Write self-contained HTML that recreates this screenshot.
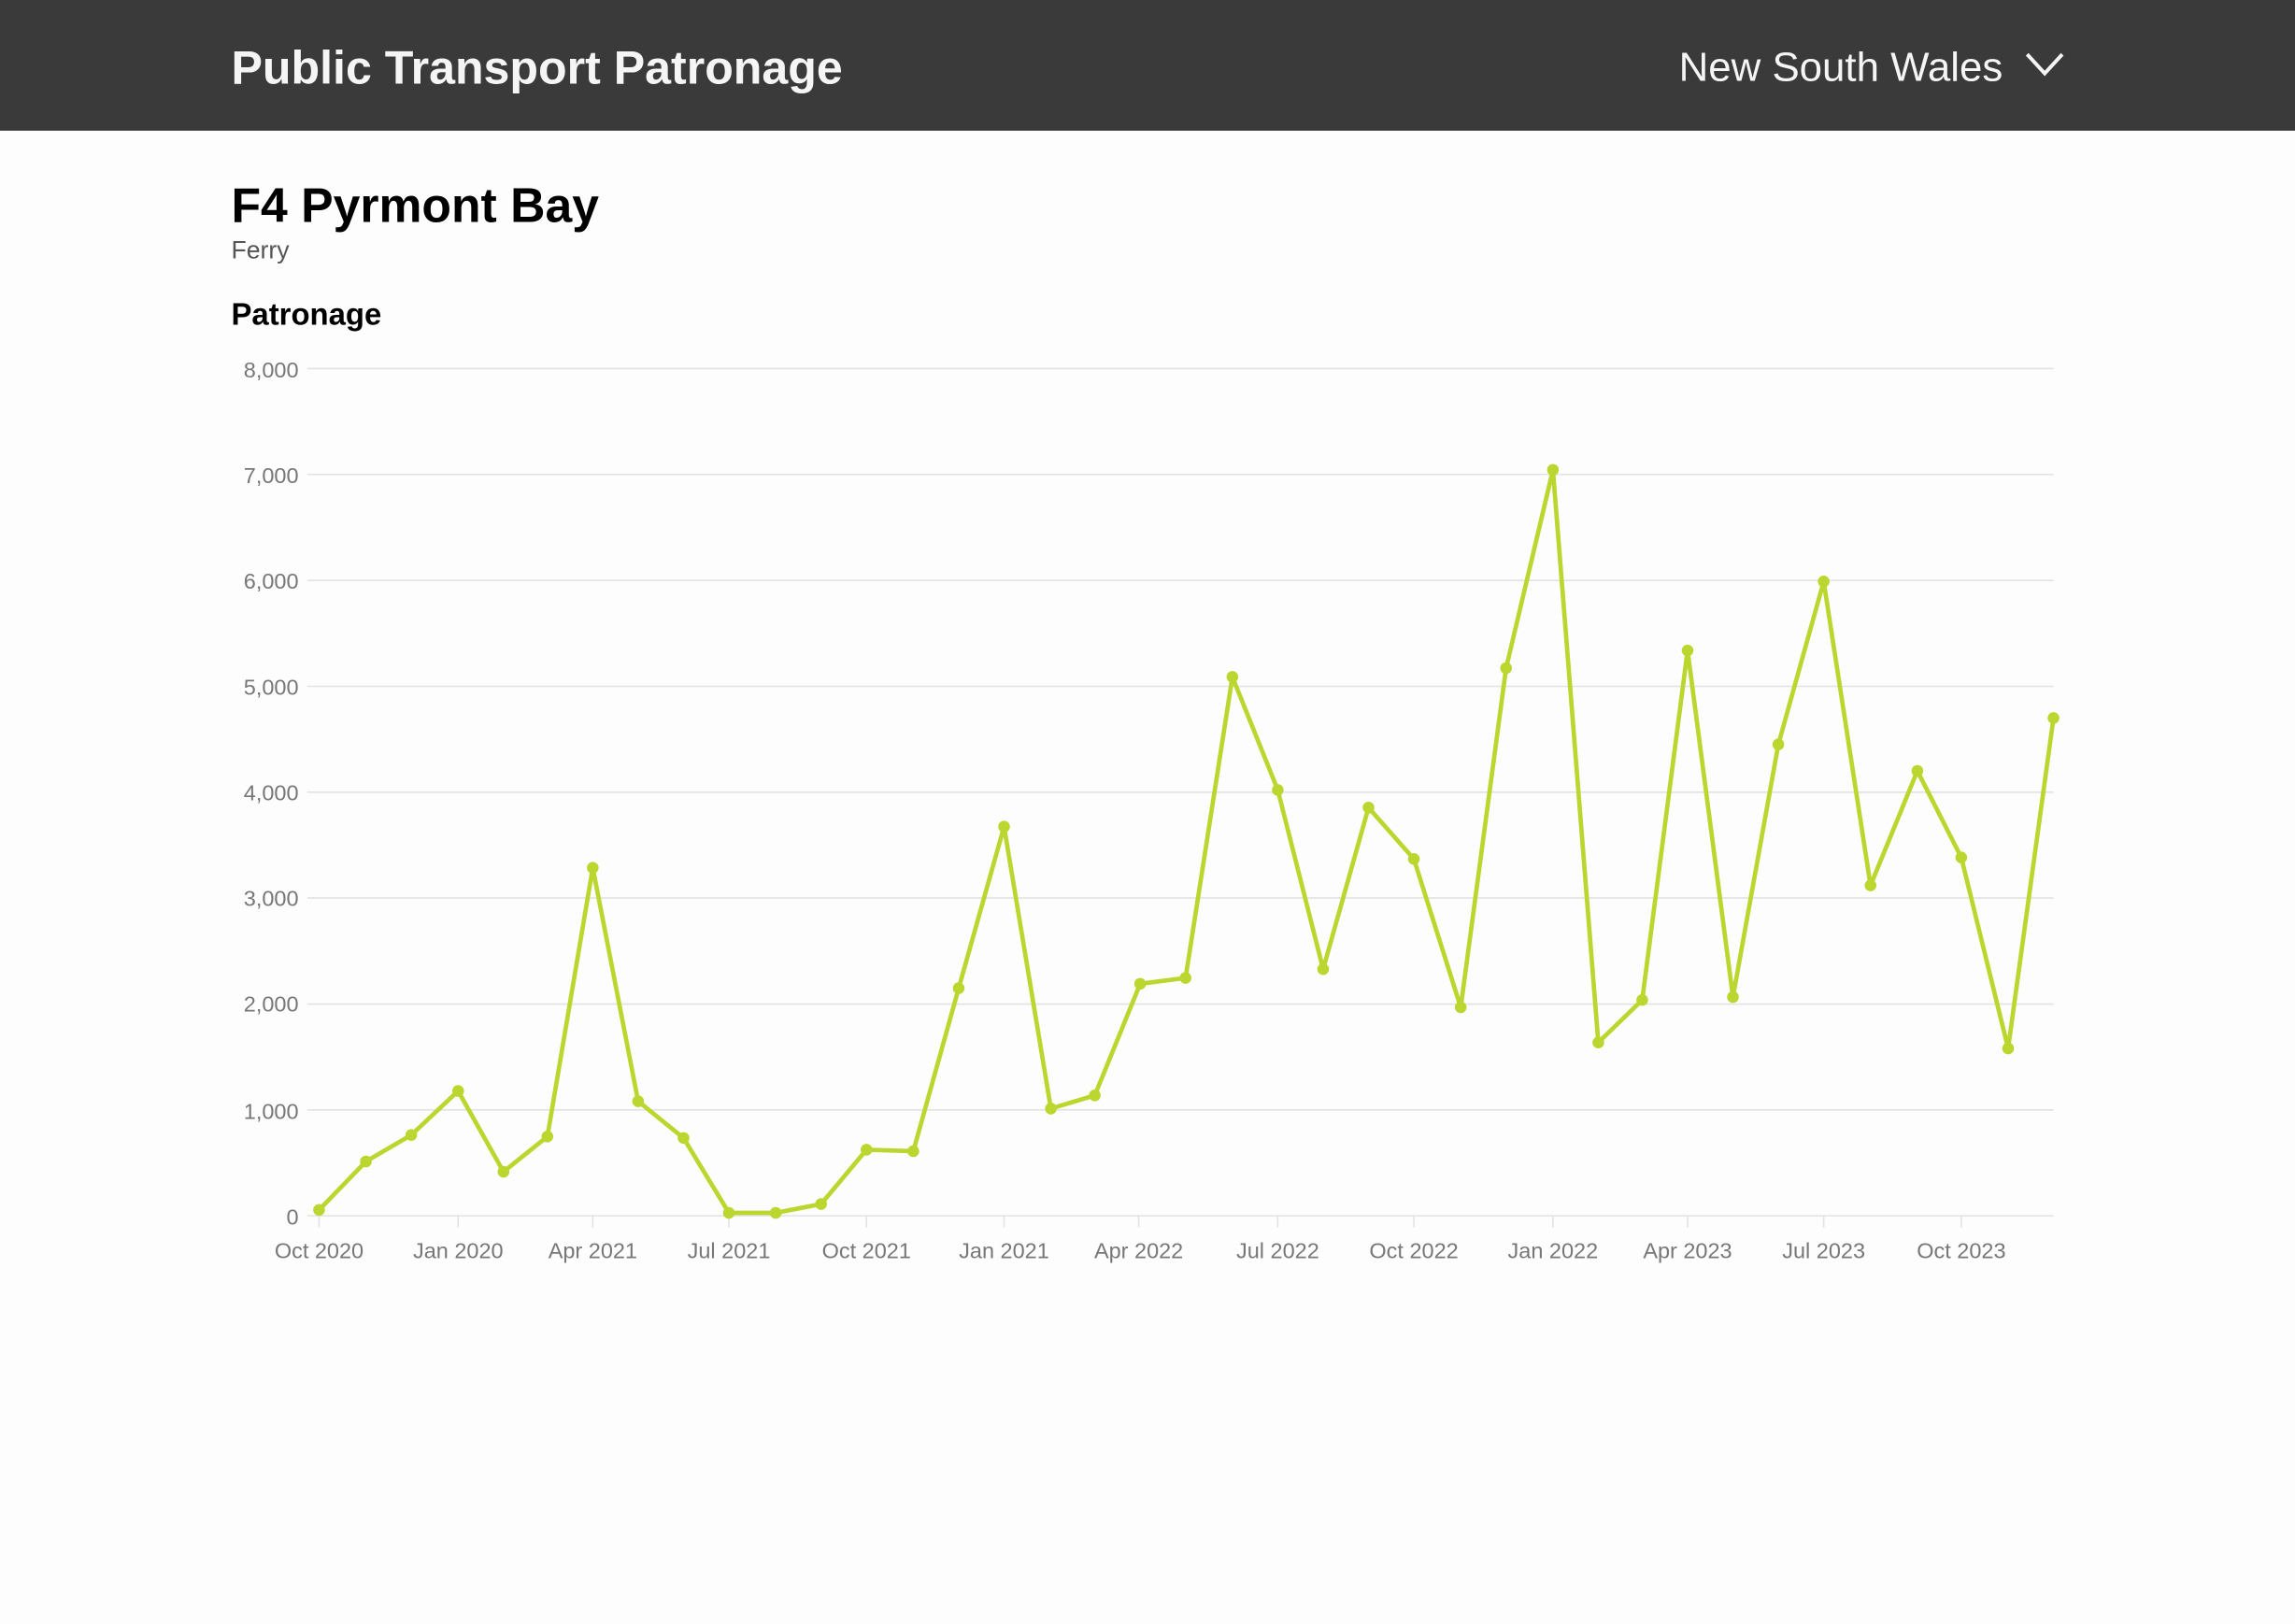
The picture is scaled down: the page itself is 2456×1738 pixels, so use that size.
<!DOCTYPE html>
<html><head><meta charset="utf-8"><style>
html,body{margin:0;padding:0;background:#fdfdfd;}
svg{display:block;}
</style></head><body>
<svg width="2456" height="1738" viewBox="0 0 1568 1106" preserveAspectRatio="none" xmlns="http://www.w3.org/2000/svg" font-family="Liberation Sans, sans-serif">
<rect x="0" y="0" width="1568" height="1106" fill="#fdfdfd"/>
<rect x="0" y="0" width="1568" height="89" fill="#3a3a3a"/>
<text x="158" y="57" font-size="32" font-weight="bold" fill="#f5f5f5">Public Transport Patronage</text>
<text x="1147" y="55" font-size="28" fill="#f5f5f5">New South Wales</text>
<polyline points="1385,37 1397,50 1409,37" fill="none" stroke="#f5f5f5" stroke-width="2.5"/>
<text x="158" y="151" font-size="33" font-weight="bold" fill="#000">F4 Pyrmont Bay</text>
<text x="158" y="176" font-size="17" fill="#555">Ferry</text>
<text x="158" y="221" font-size="21" font-weight="bold" fill="#000">Patronage</text>
<g stroke="#e2e2e2" stroke-width="1">
<line x1="210" y1="251" x2="1403" y2="251"/><line x1="210" y1="323.1" x2="1403" y2="323.1"/>
<line x1="210" y1="395.3" x2="1403" y2="395.3"/><line x1="210" y1="467.4" x2="1403" y2="467.4"/>
<line x1="210" y1="539.5" x2="1403" y2="539.5"/><line x1="210" y1="611.6" x2="1403" y2="611.6"/>
<line x1="210" y1="683.8" x2="1403" y2="683.8"/><line x1="210" y1="755.9" x2="1403" y2="755.9"/>
<line x1="210" y1="828" x2="1403" y2="828"/>
</g>
<g font-size="15" fill="#777" text-anchor="end">
<text x="204" y="257">8,000</text><text x="204" y="329">7,000</text><text x="204" y="401">6,000</text>
<text x="204" y="473">5,000</text><text x="204" y="545">4,000</text><text x="204" y="617">3,000</text>
<text x="204" y="689">2,000</text><text x="204" y="762">1,000</text><text x="204" y="834">0</text>
</g>
<g stroke="#e2e2e2" stroke-width="1">
<line x1="218" y1="828" x2="218" y2="836"/><line x1="313" y1="828" x2="313" y2="836"/><line x1="405" y1="828" x2="405" y2="836"/>
<line x1="498" y1="828" x2="498" y2="836"/><line x1="592" y1="828" x2="592" y2="836"/><line x1="686" y1="828" x2="686" y2="836"/>
<line x1="778" y1="828" x2="778" y2="836"/><line x1="873" y1="828" x2="873" y2="836"/><line x1="966" y1="828" x2="966" y2="836"/>
<line x1="1061" y1="828" x2="1061" y2="836"/><line x1="1153" y1="828" x2="1153" y2="836"/><line x1="1246" y1="828" x2="1246" y2="836"/>
<line x1="1340" y1="828" x2="1340" y2="836"/>
</g>
<g font-size="15" fill="#777" text-anchor="middle">
<text x="218" y="857">Oct 2020</text><text x="313" y="857">Jan 2020</text><text x="405" y="857">Apr 2021</text>
<text x="498" y="857">Jul 2021</text><text x="592" y="857">Oct 2021</text><text x="686" y="857">Jan 2021</text>
<text x="778" y="857">Apr 2022</text><text x="873" y="857">Jul 2022</text><text x="966" y="857">Oct 2022</text>
<text x="1061" y="857">Jan 2022</text><text x="1153" y="857">Apr 2023</text><text x="1246" y="857">Jul 2023</text>
<text x="1340" y="857">Oct 2023</text>
</g>
<polyline fill="none" stroke="#bcd630" stroke-width="3" stroke-linejoin="round" points="218,824 250,791 281,773 313,743 344,798 374,774 405,591 436,750 467,775 498,826 530,826 561,820 592,783 624,784 655,673 686,563 718,755 748,746 779,670 810,666 842,461 873,538 904,660 935,550 966,585 998,686 1029,455 1061,320 1092,710 1122,681 1153,443 1184,679 1215,507 1246,396 1278,603 1310,525 1340,584 1372,714 1403,489"/>
<g fill="#bcd630">
<circle cx="218" cy="824" r="4"/><circle cx="250" cy="791" r="4"/><circle cx="281" cy="773" r="4"/><circle cx="313" cy="743" r="4"/>
<circle cx="344" cy="798" r="4"/><circle cx="374" cy="774" r="4"/><circle cx="405" cy="591" r="4"/><circle cx="436" cy="750" r="4"/>
<circle cx="467" cy="775" r="4"/><circle cx="498" cy="826" r="4"/><circle cx="530" cy="826" r="4"/><circle cx="561" cy="820" r="4"/>
<circle cx="592" cy="783" r="4"/><circle cx="624" cy="784" r="4"/><circle cx="655" cy="673" r="4"/><circle cx="686" cy="563" r="4"/>
<circle cx="718" cy="755" r="4"/><circle cx="748" cy="746" r="4"/><circle cx="779" cy="670" r="4"/><circle cx="810" cy="666" r="4"/>
<circle cx="842" cy="461" r="4"/><circle cx="873" cy="538" r="4"/><circle cx="904" cy="660" r="4"/><circle cx="935" cy="550" r="4"/>
<circle cx="966" cy="585" r="4"/><circle cx="998" cy="686" r="4"/><circle cx="1029" cy="455" r="4"/><circle cx="1061" cy="320" r="4"/>
<circle cx="1092" cy="710" r="4"/><circle cx="1122" cy="681" r="4"/><circle cx="1153" cy="443" r="4"/><circle cx="1184" cy="679" r="4"/>
<circle cx="1215" cy="507" r="4"/><circle cx="1246" cy="396" r="4"/><circle cx="1278" cy="603" r="4"/><circle cx="1310" cy="525" r="4"/>
<circle cx="1340" cy="584" r="4"/><circle cx="1372" cy="714" r="4"/><circle cx="1403" cy="489" r="4"/>
</g>
</svg>
</body></html>
